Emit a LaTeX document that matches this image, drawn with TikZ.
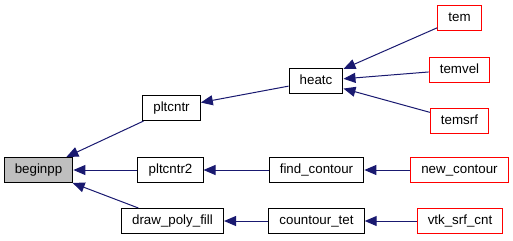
\documentclass[tikz,border=0pt]{standalone}
\usepackage{fontspec}
\setmainfont{Liberation Sans}
\usetikzlibrary{arrows.meta}
\definecolor{edgeblue}{HTML}{191970}

\begin{document}
\begin{tikzpicture}[x=0.75pt, y=-0.75pt,
		fn/.style={draw=black, line width=0.75pt, fill=white, minimum height=18.75pt, inner xsep=8pt, inner ysep=0pt, text height=7.5pt, text depth=2pt, font=\fontsize{10}{12}\selectfont},
		fnred/.style={fn, draw=red},
		fncur/.style={fn, fill=black!25},
		call/.style={draw=edgeblue, line width=0.75pt, -{Triangle[length=9pt, width=7.5pt, fill=edgeblue]}}]
		%%%%% START %%%%%
		
		\useasboundingbox (0, 0) rectangle (513, 240);
		
		% column 1
		\node[fncur] (beginpp) at (38.5, 170) {beginpp};
		
		% column 2
		\node[fn] (pltcntr) at (171.5, 108) {pltcntr};
		\node[fn] (pltcntr2) at (170.5, 170) {pltcntr2};
		\node[fn] (draw_poly_fill) at (172.5, 221) {draw\_poly\_fill};
		
		% column 3
		\node[fn] (heatc) at (316, 81) {heatc};
		\node[fn] (find_contour) at (316.5, 170) {find\_contour};
		\node[fn] (countour_tet) at (316.5, 221) {countour\_tet};
		
		% column 4
		\node[fnred] (tem) at (459.5, 18) {tem};
		\node[fnred] (temvel) at (459.5, 69.5) {temvel};
		\node[fnred] (temsrf) at (459.5, 120.5) {temsrf};
		\node[fnred] (new_contour) at (459.5, 170) {new\_contour};
		\node[fnred] (vtk_srf_cnt) at (460, 221) {vtk\_srf\_cnt};
		
		% calls
		\draw[call] (pltcntr) -- (beginpp);
		\draw[call] (pltcntr2) -- (beginpp);
		\draw[call] (draw_poly_fill) -- (beginpp);
		
		\draw[call] (heatc) -- (pltcntr);
		\draw[call] (find_contour) -- (pltcntr2);
		\draw[call] (countour_tet) -- (draw_poly_fill);
		
		\draw[call] (tem) -- (heatc);
		\draw[call] (temvel) -- (heatc);
		\draw[call] (temsrf) -- (heatc);
		\draw[call] (new_contour) -- (find_contour);
		\draw[call] (vtk_srf_cnt) -- (countour_tet);
		
		%%%%% END %%%%%
	\end{tikzpicture}
\end{document}
